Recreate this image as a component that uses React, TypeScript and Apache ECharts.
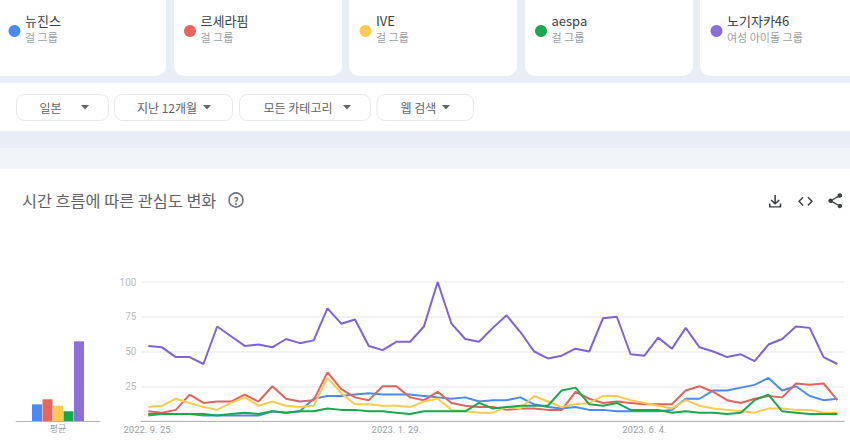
import React, { useEffect, useRef } from "react";
import * as echarts from "echarts";

const dates = [
  "2022. 9. 25.","2022. 10. 2.","2022. 10. 9.","2022. 10. 16.","2022. 10. 23.","2022. 10. 30.","2022. 11. 6.","2022. 11. 13.","2022. 11. 20.","2022. 11. 27.",
  "2022. 12. 4.","2022. 12. 11.","2022. 12. 18.","2022. 12. 25.","2023. 1. 1.","2023. 1. 8.","2023. 1. 15.","2023. 1. 22.","2023. 1. 29.","2023. 2. 5.",
  "2023. 2. 12.","2023. 2. 19.","2023. 2. 26.","2023. 3. 5.","2023. 3. 12.","2023. 3. 19.","2023. 3. 26.","2023. 4. 2.","2023. 4. 9.","2023. 4. 16.",
  "2023. 4. 23.","2023. 4. 30.","2023. 5. 7.","2023. 5. 14.","2023. 5. 21.","2023. 5. 28.","2023. 6. 4.","2023. 6. 11.","2023. 6. 18.","2023. 6. 25.",
  "2023. 7. 2.","2023. 7. 9.","2023. 7. 16.","2023. 7. 23.","2023. 7. 30.","2023. 8. 6.","2023. 8. 13.","2023. 8. 20.","2023. 8. 27.","2023. 9. 3.","2023. 9. 10.",
];
const newjeans = [4,5,5,5,4,4,4,4,4,7,6,7,16,18,18,19,20,19,19,19,18,17,16,17,14,15,15,17,12,10,9,10,8,8,7,7,7,7,8,16,16,22,22,24,26,31,22,25,18,15,16];
const lesserafim = [7,6,8,19,13,14,14,19,14,25,16,14,15,35,23,17,15,25,25,17,15,21,13,11,10,10,8,9,9,8,8,21,16,13,14,13,12,12,12,22,25,21,15,13,16,18,17,27,26,27,15];
const ive = [10,11,16,13,10,8,13,17,11,14,11,10,11,31,20,12,12,11,11,10,14,16,8,7,6,6,10,9,18,14,10,12,13,18,18,15,13,11,9,15,11,9,8,7,6,9,9,8,8,6,6];
const aespa = [5,5,5,5,5,4,5,6,5,7,6,7,7,9,8,8,7,7,6,5,7,7,7,7,13,9,10,11,11,11,22,24,12,11,13,8,8,8,6,7,6,6,5,6,15,19,7,6,5,5,5];
const nogizaka = [54,53,46,46,41,68,61,54,55,53,59,56,58,81,70,73,54,51,57,57,68,100,70,59,57,67,76,64,50,45,47,52,50,74,75,48,47,60,52,67,53,50,46,48,43,55,59,68,67,46,41];
const averages = [12,15.6,11,7,57.3];
const names = ["뉴진스","르세라핌","IVE","aespa","노기자카46"];
const subtitles = ["걸 그룹","걸 그룹","걸 그룹","걸 그룹","여성 아이돌 그룹"];
const filters = ["일본","지난 12개월","모든 카테고리","웹 검색"];
const yTicks = [0,25,50,75,100];
const barCategory = ["평균"];
const title = "시간 흐름에 따른 관심도 변화";
const colors = ["#4a8af4","#e8655f","#fbcb4f","#1aa84f","#8a6fd8"];
const lineColors = ["#4a8af4","#e4625c","#fbcb4f","#1aa84f","#7f63d6"];
const FONT = '"Noto Sans CJK KR", "Noto Sans", sans-serif';
const PAGE = "#e9edf6";

const DL = "M16.59 9.59 13 13.17V3h-2v10.17L7.41 9.59 6 11l6 6 6-6zM4 15h2v4h12v-4h2v6H4z";
const CODE = "M9.4 16.6 4.8 12l4.6-4.6L8 6l-6 6 6 6 1.4-1.4zm5.2 0 4.6-4.6-4.6-4.6L16 6l6 6-6 6-1.4-1.4z";
const SHARE = "M18 16.08c-.76 0-1.44.3-1.96.77L8.91 12.7c.05-.23.09-.46.09-.7s-.04-.47-.09-.7l7.05-4.11c.54.5 1.25.81 2.04.81 1.66 0 3-1.34 3-3s-1.34-3-3-3-3 1.34-3 3c0 .24.04.47.09.7L8.04 9.81C7.5 9.31 6.79 9 6 9c-1.66 0-3 1.34-3 3s1.34 3 3 3c.79 0 1.5-.31 2.04-.81l7.12 4.16c-.05.21-.08.43-.08.65 0 1.61 1.31 2.92 2.92 2.92s2.92-1.31 2.92-2.92-1.31-2.92-2.92-2.92z";

echarts.graphic.registerShape("dlIcon", echarts.graphic.extendPath(DL, {}) as any);
echarts.graphic.registerShape("codeIcon", echarts.graphic.extendPath(CODE, {}) as any);
echarts.graphic.registerShape("shareIcon", echarts.graphic.extendPath(SHARE, {}) as any);

const cardX = [-14, 174, 349, 525, 700];
const cardW = [180, 168, 168, 168, 170];
const filterBox = [[16, 92], [114, 118], [239, 131], [376.5, 96.5]];
const filterText = [50.5, 167, 298, 418.5];
const caretX = [81, 203, 343, 442];

function buildGraphic() {
  const g: any[] = [];
  // lighter band above main card
  g.push({ type: "rect", z: 0, shape: { x: 0, y: 148, width: 850, height: 30 }, style: { fill: "#f1f4f9" } });
  // cards
  cardX.forEach((x, i) => {
    g.push({ type: "rect", z: 0, shape: { x, y: -20, width: cardW[i], height: 96, r: 10 }, style: { fill: "#fff" } });
    const dx = [14.5, 190, 365.5, 541, 716.5][i];
    g.push({ type: "circle", z: 1, shape: { cx: dx, cy: 31, r: 6 }, style: { fill: colors[i] } });
    g.push({ type: "text", z: 1, x: dx + 10.5, y: 20.5, style: { text: names[i], font: `13px ${FONT}`, fill: "#3c4043", textVerticalAlign: "middle" } });
    g.push({ type: "text", z: 1, x: dx + 10.5, y: 37, style: { text: subtitles[i], font: `11px ${FONT}`, fill: "#9aa0a6", textVerticalAlign: "middle" } });
  });
  // filter strip
  g.push({ type: "rect", z: 0, shape: { x: -10, y: 83, width: 880, height: 48, r: 10 }, style: { fill: "#fff" } });
  filterBox.forEach(([x, w], i) => {
    g.push({ type: "rect", z: 1, shape: { x: x + 0.5, y: 94.5, width: w, height: 26, r: 8 }, style: { fill: "#fff", stroke: "#e8e8e8", lineWidth: 1 } });
    g.push({ type: "text", z: 1, x: filterText[i], y: 107.5, style: { text: filters[i], font: `12px ${FONT}`, fill: "#5f6368", textAlign: "center", textVerticalAlign: "middle" } });
    g.push({ type: "polygon", z: 1, shape: { points: [[caretX[i], 105], [caretX[i] + 8, 105], [caretX[i] + 4, 109.5]] }, style: { fill: "#666" } });
  });
  // main card
  g.push({ type: "rect", z: 0, shape: { x: -10, y: 169, width: 880, height: 300, r: 10 }, style: { fill: "#fff" } });
  g.push({ type: "text", z: 1, x: 22, y: 199.5, style: { text: title, font: `16.3px ${FONT}`, fill: "#5f6368", textVerticalAlign: "middle" } });
  g.push({ type: "circle", z: 1, shape: { cx: 236, cy: 200, r: 7 }, style: { fill: "#fff", stroke: "#70757a", lineWidth: 1.6 } });
  g.push({ type: "text", z: 2, x: 236, y: 200.5, style: { text: "?", font: `bold 10px ${FONT}`, fill: "#70757a", textAlign: "center", textVerticalAlign: "middle" } });
  g.push({ type: "dlIcon", z: 1, x: 765.9, y: 192.9, scaleX: 0.77, scaleY: 0.7, style: { fill: "#3c4043" } });
  g.push({ type: "codeIcon", z: 1, x: 796.5, y: 192, scaleX: 0.75, scaleY: 0.78, style: { fill: "#3c4043" } });
  g.push({ type: "shareIcon", z: 1, x: 826, y: 191.8, scaleX: 0.77, scaleY: 0.75, style: { fill: "#3c4043" } });
  return g;
}

export default function App() {
  const ref = useRef<HTMLDivElement>(null);
  useEffect(() => {
    const chart = echarts.init(ref.current!, undefined, { renderer: "svg" });
    const lines = [newjeans, lesserafim, ive, aespa, nogizaka];
    chart.setOption({
      animation: false,
      backgroundColor: PAGE,
      textStyle: { fontFamily: FONT },
      graphic: { elements: buildGraphic() },
      grid: [
        { left: 16, width: 84, top: 282, height: 139 },
        { left: 141.4, width: 702.8, top: 282, height: 139 },
      ],
      xAxis: [
        {
          type: "category", gridIndex: 0, data: barCategory,
          axisLine: { lineStyle: { color: "#b5b5b5", width: 1 } }, axisTick: { show: false },
          axisLabel: { color: "#9aa0a6", fontSize: 9, margin: 3, fontFamily: FONT },
        },
        {
          type: "category", gridIndex: 1, data: dates,
          axisLine: { lineStyle: { color: "#b5b5b5", width: 1 } }, axisTick: { show: false },
          axisLabel: {
            color: "#9aa0a6", fontSize: 9.5, margin: 3, fontFamily: "Roboto",
            interval: (i: number) => i % 18 === 0,
          },
        },
      ],
      yAxis: [
        { type: "value", gridIndex: 0, min: 0, max: 100, interval: 25, show: false },
        {
          type: "value", gridIndex: 1, min: yTicks[0], max: yTicks[4], interval: 25,
          axisLine: { show: false }, axisTick: { show: false },
          axisLabel: { color: "#bdbdbd", fontSize: 10, margin: 5, fontFamily: "Roboto", formatter: (v: number) => (v === 0 ? "" : String(v)) },
          splitLine: { lineStyle: { color: "#efefef", width: 1.5 } },
        },
      ],
      series: [
        ...names.map((name, i) => ({
          type: "bar", name: name + " 평균", xAxisIndex: 0, yAxisIndex: 0,
          data: [averages[i]], barWidth: 10, barGap: "5%", itemStyle: { color: colors[i] }, silent: true,
        })),
        ...names.map((name, i) => ({
          type: "line", name, xAxisIndex: 1, yAxisIndex: 1, data: lines[i], symbol: "none",
          z: 3 + i, lineStyle: { color: lineColors[i], width: 2 }, silent: true,
        })),
      ],
    });
    return () => chart.dispose();
  }, []);
  return <div ref={ref} style={{ position: "fixed", left: 0, top: 0, width: 850, height: 447 }} />;
}
